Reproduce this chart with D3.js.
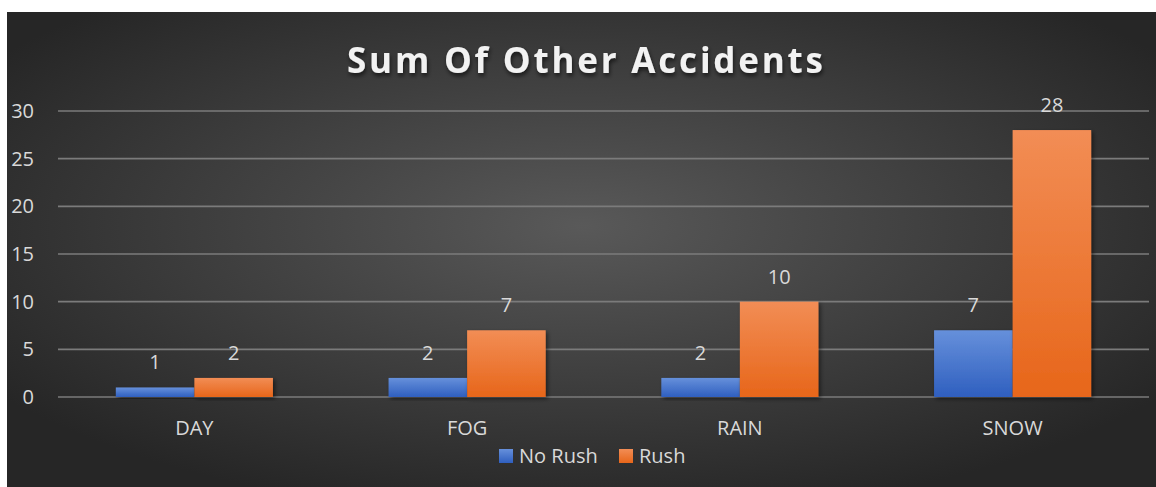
<!DOCTYPE html>
<html lang="en">
<head>
<meta charset="UTF-8">
<title>Sum Of Other Accidents</title>
<style>
  body { margin: 0; background: #fff; }
  svg text { font-family: "Open Sans", "Noto Sans", sans-serif; fill: #d9d9d9; }
</style>
</head>
<body>
<svg id="viz" width="1156" height="487"></svg>

<script src="https://d3js.org/d3.v7.min.js"></script>
<script>
// data
const categories = ["DAY", "FOG", "RAIN", "SNOW"];
const seriesNames = ["No Rush", "Rush"];
const noRush = [1, 2, 2, 7];
const rush = [2, 7, 10, 28];
const yTicks = [0, 5, 10, 15, 20, 25, 30];

const colors = { "No Rush": ["#6690db", "#2f5fbf"], "Rush": ["#f28d55", "#e7661a"] };

const svg = d3.select("#viz");
const defs = svg.append("defs");

// background: dark radial gradient
const bg = defs.append("radialGradient")
  .attr("id", "bg")
  .attr("cx", "50%").attr("cy", "45%").attr("r", "62%");
bg.append("stop").attr("offset", "0%").attr("stop-color", "#595959");
bg.append("stop").attr("offset", "100%").attr("stop-color", "#262626");

seriesNames.forEach((s, i) => {
  const g = defs.append("linearGradient")
    .attr("id", "bar" + i)
    .attr("x1", 0).attr("y1", 0).attr("x2", 0).attr("y2", 1);
  g.append("stop").attr("offset", "0%").attr("stop-color", colors[s][0]);
  g.append("stop").attr("offset", "100%").attr("stop-color", colors[s][1]);
});

defs.append("filter").attr("id", "shadow")
  .attr("x", "-20%").attr("y", "-20%").attr("width", "140%").attr("height", "140%")
  .append("feDropShadow")
  .attr("dx", 2).attr("dy", 2).attr("stdDeviation", 2)
  .attr("flood-color", "#000").attr("flood-opacity", 0.5);

defs.append("filter").attr("id", "tshadow")
  .append("feDropShadow")
  .attr("dx", 1).attr("dy", 3).attr("stdDeviation", 2)
  .attr("flood-color", "#000").attr("flood-opacity", 0.6);

svg.append("rect")
  .attr("x", 7).attr("y", 12)
  .attr("width", 1149).attr("height", 475)
  .attr("fill", "url(#bg)");

const y = d3.scaleLinear().domain([0, 30]).range([397, 111]);
const x = d3.scaleBand().domain(categories).range([58, 1149])
  .paddingInner(0.424).paddingOuter(0.212);
const xs = d3.scaleBand().domain(seriesNames).range([0, x.bandwidth()]);

// gridlines
svg.append("g").selectAll("line")
  .data(yTicks)
  .join("line")
  .attr("x1", 58).attr("x2", 1149)
  .attr("y1", d => y(d)).attr("y2", d => y(d))
  .attr("stroke", "#7b7b7b").attr("stroke-width", 1.6);

// y tick labels
svg.append("g").selectAll("text")
  .data(yTicks)
  .join("text")
  .attr("x", 34)
  .attr("y", d => y(d) + 7)
  .attr("text-anchor", "end")
  .style("font-size", "20px")
  .text(d => d);

// bars
const rows = categories.map((c, i) => ({ cat: c, vals: [noRush[i], rush[i]] }));

const groups = svg.append("g").selectAll("g")
  .data(rows)
  .join("g")
  .attr("transform", d => `translate(${x(d.cat)},0)`);

groups.selectAll("rect")
  .data(d => d.vals.map((v, i) => ({ s: seriesNames[i], i, v })))
  .join("rect")
  .attr("x", d => xs(d.s))
  .attr("y", d => y(d.v))
  .attr("width", xs.bandwidth())
  .attr("height", d => y(0) - y(d.v))
  .attr("fill", d => `url(#bar${d.i})`)
  .attr("filter", "url(#shadow)");

groups.selectAll("text")
  .data(d => d.vals.map((v, i) => ({ s: seriesNames[i], v })))
  .join("text")
  .attr("x", d => xs(d.s) + xs.bandwidth() / 2)
  .attr("y", d => y(d.v) - 18)
  .attr("text-anchor", "middle")
  .style("font-size", "20px")
  .text(d => d.v);

// category labels
svg.append("g").selectAll("text")
  .data(categories)
  .join("text")
  .attr("x", d => x(d) + x.bandwidth() / 2)
  .attr("y", 435)
  .attr("text-anchor", "middle")
  .style("font-size", "20px")
  .text(d => d);

// title
svg.append("text")
  .attr("x", 585).attr("y", 73)
  .attr("text-anchor", "middle")
  .attr("filter", "url(#tshadow)")
  .style("font-size", "35px")
  .style("font-weight", "bold")
  .style("fill", "#f2f2f2")
  .attr("textLength", 476)
  .attr("lengthAdjust", "spacing")
  .text("Sum Of Other Accidents");

// legend
const legendX = [499, 619];
const legend = svg.append("g").selectAll("g")
  .data(seriesNames)
  .join("g")
  .attr("transform", (d, i) => `translate(${legendX[i]},449)`);
legend.append("rect")
  .attr("width", 14).attr("height", 14)
  .attr("fill", (d, i) => `url(#bar${i})`);
legend.append("text")
  .attr("x", 20).attr("y", 14)
  .style("font-size", "20px")
  .text(d => d);
</script>
</body>
</html>
